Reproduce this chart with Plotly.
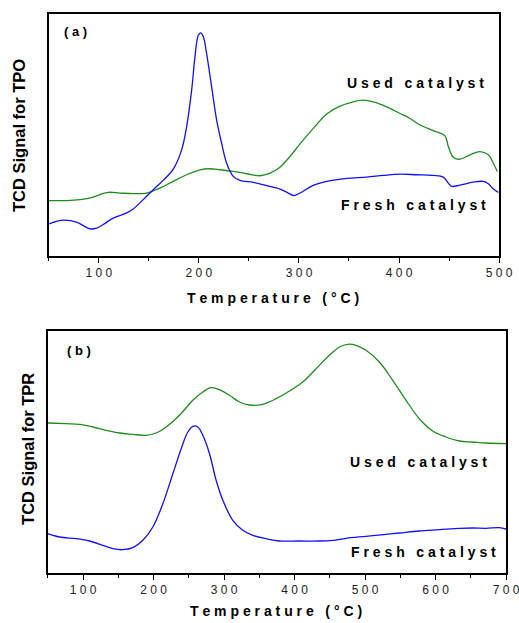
import plotly.graph_objects as go

# ---- Panel (a): TPO ----
tpo_fresh_T = [50, 64.3, 77.7, 91, 97.7, 104.3, 114.3, 127.7, 134.3, 144.3, 154.3, 164.3, 174.3, 182.7,
               187.7, 192.7, 196, 199.3, 201.7, 204.3, 207.7, 212.7, 217.7, 222.7, 227.7, 234.3, 241,
               254.3, 267.7, 281, 289.3, 295, 301, 314.3, 327.7, 347.7, 367.7, 384.3, 401, 417.7, 434.3,
               444.3, 449.3, 452.7, 461, 474.3, 484.3, 489.3, 494.3, 499.3]
tpo_fresh_S = [32.3, 36, 34, 27.3, 28, 31.7, 38, 43.3, 47.3, 56.7, 66.7, 76, 87.3, 106.7,
               130, 166.7, 200, 221.7, 224.3, 220.7, 203.3, 170, 136.7, 113.3, 93.3, 80, 76,
               74, 70.7, 67.3, 63.3, 60.7, 63.3, 71, 75, 78, 79.3, 81, 82.3, 81.7, 81,
               79.3, 73.3, 70, 71.3, 74.3, 75, 72.7, 67.3, 64]

tpo_used_T = [50, 67.7, 81, 94.3, 101, 109.3, 121, 134.3, 147.7, 161, 174.3, 187.7, 201, 211, 221,
              234.3, 247.7, 261, 271, 281, 291, 301, 314.3, 327.7, 341, 354.3, 364.3, 374.3, 387.7,
              401, 411, 421, 434.3, 446, 449.3, 454.3, 461, 471, 481, 489.3, 494.3, 498.3]
tpo_used_S = [55.7, 55.7, 56.7, 59.3, 61.7, 64, 63.3, 62.7, 63.3, 68.3, 75, 81.7, 86.7, 87.7, 86.7,
              85, 82.7, 80.7, 83.3, 89.3, 100, 112.7, 128.3, 142.7, 150.7, 155, 156.7, 155, 150,
              143.3, 138.3, 131.7, 126, 120.7, 110, 99.3, 97.3, 101.7, 105, 101.7, 93.3, 85]

# ---- Panel (b): TPR ----
tpr_used_T = [50, 76, 94.9, 113.8, 132.7, 151.6, 170.5, 189.4, 203.6, 217.8, 236.7, 255.6, 269.8,
              281.6, 293.4, 307.6, 321.8, 336, 354.9, 373.8, 392.7, 411.6, 430.5, 449.4, 463.6,
              475.4, 487.2, 501.4, 520.3, 539.2, 558.1, 577, 595.9, 614.8, 633.8, 652.7, 671.6, 700]
tpr_used_S = [150, 149.3, 148.7, 146, 142.7, 140, 138.7, 137.7, 140, 146, 157.7, 172.7, 181,
              185.3, 183.3, 177.7, 171, 168, 168.7, 174.3, 182, 191, 204.3, 217.7, 226,
              228.7, 227.7, 222.7, 211, 192.7, 172.7, 154.3, 142, 136, 132, 131, 130, 129.3]

tpr_fresh_T = [50, 66.5, 90.2, 109.1, 128, 142.2, 156.4, 170.5, 184.7, 198.9, 213.1, 227.3, 239.1,
               248.5, 255.6, 262.7, 269.8, 279.3, 288.7, 298.2, 312.3, 326.5, 340.7, 359.6, 378.5,
               406.9, 435.3, 454.2, 473.1, 501.4, 529.8, 548.7, 577, 605.4, 633.8, 652.7, 671.6,
               690.5, 700]
tpr_fresh_S = [39.3, 36, 34.3, 32, 27.7, 24.3, 23.3, 25.3, 32.7, 46, 69.3, 99.3, 124.3,
               141, 146.7, 146, 137.7, 119.3, 92.7, 72.7, 52.7, 42.7, 37.7, 34.3, 32,
               32, 32, 32.7, 34.7, 36.7, 38.7, 40, 42, 43.3, 44.7, 45, 44.7,
               45.3, 44]

tpo_ticks = [100, 200, 300, 400, 500]
tpr_ticks = [100, 200, 300, 400, 500, 600, 700]


def spaced(s):
    return " ".join(list(s))


BLUE = "#1010ff"
GREEN = "#1f8c1f"
FONT = "Liberation Sans, Arial, sans-serif"

# layout coordinates below are given in reference-picture pixels (519 x 623)
REF_W = 519
W, H = 532, 623


def px(x):
    return x / REF_W


def py(y):
    return 1 - y / H


fig = go.Figure()
fig.add_trace(go.Scatter(x=tpo_used_T, y=tpo_used_S, mode="lines", line=dict(color=GREEN, width=1.3, shape="spline"),
                         xaxis="x", yaxis="y", showlegend=False))
fig.add_trace(go.Scatter(x=tpo_fresh_T, y=tpo_fresh_S, mode="lines", line=dict(color=BLUE, width=1.3, shape="spline"),
                         xaxis="x", yaxis="y", showlegend=False))
fig.add_trace(go.Scatter(x=tpr_used_T, y=tpr_used_S, mode="lines", line=dict(color=GREEN, width=1.3, shape="spline"),
                         xaxis="x2", yaxis="y2", showlegend=False))
fig.add_trace(go.Scatter(x=tpr_fresh_T, y=tpr_fresh_S, mode="lines", line=dict(color=BLUE, width=1.3, shape="spline"),
                         xaxis="x2", yaxis="y2", showlegend=False))


def xax(domain, rng, ticks, anchor):
    return dict(domain=domain, range=rng, anchor=anchor, showline=True, linecolor="black", linewidth=1.5,
                mirror=True, ticks="outside", ticklen=5, tickwidth=1.2, tickcolor="black",
                tickvals=ticks, ticktext=[spaced(str(t)) for t in ticks],
                tickfont=dict(family=FONT, size=12, color="#222"),
                minor=dict(dtick=50, tick0=0, ticks="outside", ticklen=3, tickcolor="black", tickwidth=1),
                showgrid=False, zeroline=False)


def yax(domain, rng, anchor):
    return dict(domain=domain, range=rng, anchor=anchor, showline=True, linecolor="black", linewidth=1.5,
                mirror=True, ticks="", showticklabels=False, showgrid=False, zeroline=False)


fig.update_layout(
    width=W, height=H, autosize=False, margin=dict(l=0, r=0, t=0, b=0),
    paper_bgcolor="white", plot_bgcolor="white",
    xaxis=xax([px(49), px(500)], [50, 500], tpo_ticks, "y"),
    yaxis=yax([py(256), py(14)], [0, 243.3], "x"),
    xaxis2=xax([px(48), px(507)], [50, 700], tpr_ticks, "y2"),
    yaxis2=yax([py(573), py(331)], [0, 242], "x2"),
)


def ann(text, x, y, size=13, bold=True, angle=0):
    fig.add_annotation(text=("<b>%s</b>" % text) if bold else text, x=px(x), y=py(y),
                       xref="paper", yref="paper", showarrow=False, textangle=angle,
                       font=dict(family=FONT, size=size, color="black"), xanchor="center", yanchor="middle")


ann("( a )", 76, 32, size=13)
ann("( b )", 79, 350, size=13)
ann("U s e d   c a t a l y s t", 416, 83, size=14)
ann("F r e s h   c a t a l y s t", 414, 205, size=14)
ann("U s e d   c a t a l y s t", 419, 462, size=14)
ann("F r e s h   c a t a l y s t", 424, 552, size=14)
ann("T e m p e r a t u r e   ( ° C )", 274, 298, size=14)
ann("T e m p e r a t u r e   ( ° C )", 277, 611, size=14)
ann("TCD Signal for TPO", 19, 135, size=16.5, angle=-90)
ann("TCD Signal for TPR", 28, 449, size=16.5, angle=-90)

fig.write_html(
    "out.html",
    config={"responsive": False, "displayModeBar": False},
    post_script="document.body.style.margin='0';document.body.style.padding='0';"
                "document.body.style.overflow='hidden';document.documentElement.style.overflow='hidden';",
)
